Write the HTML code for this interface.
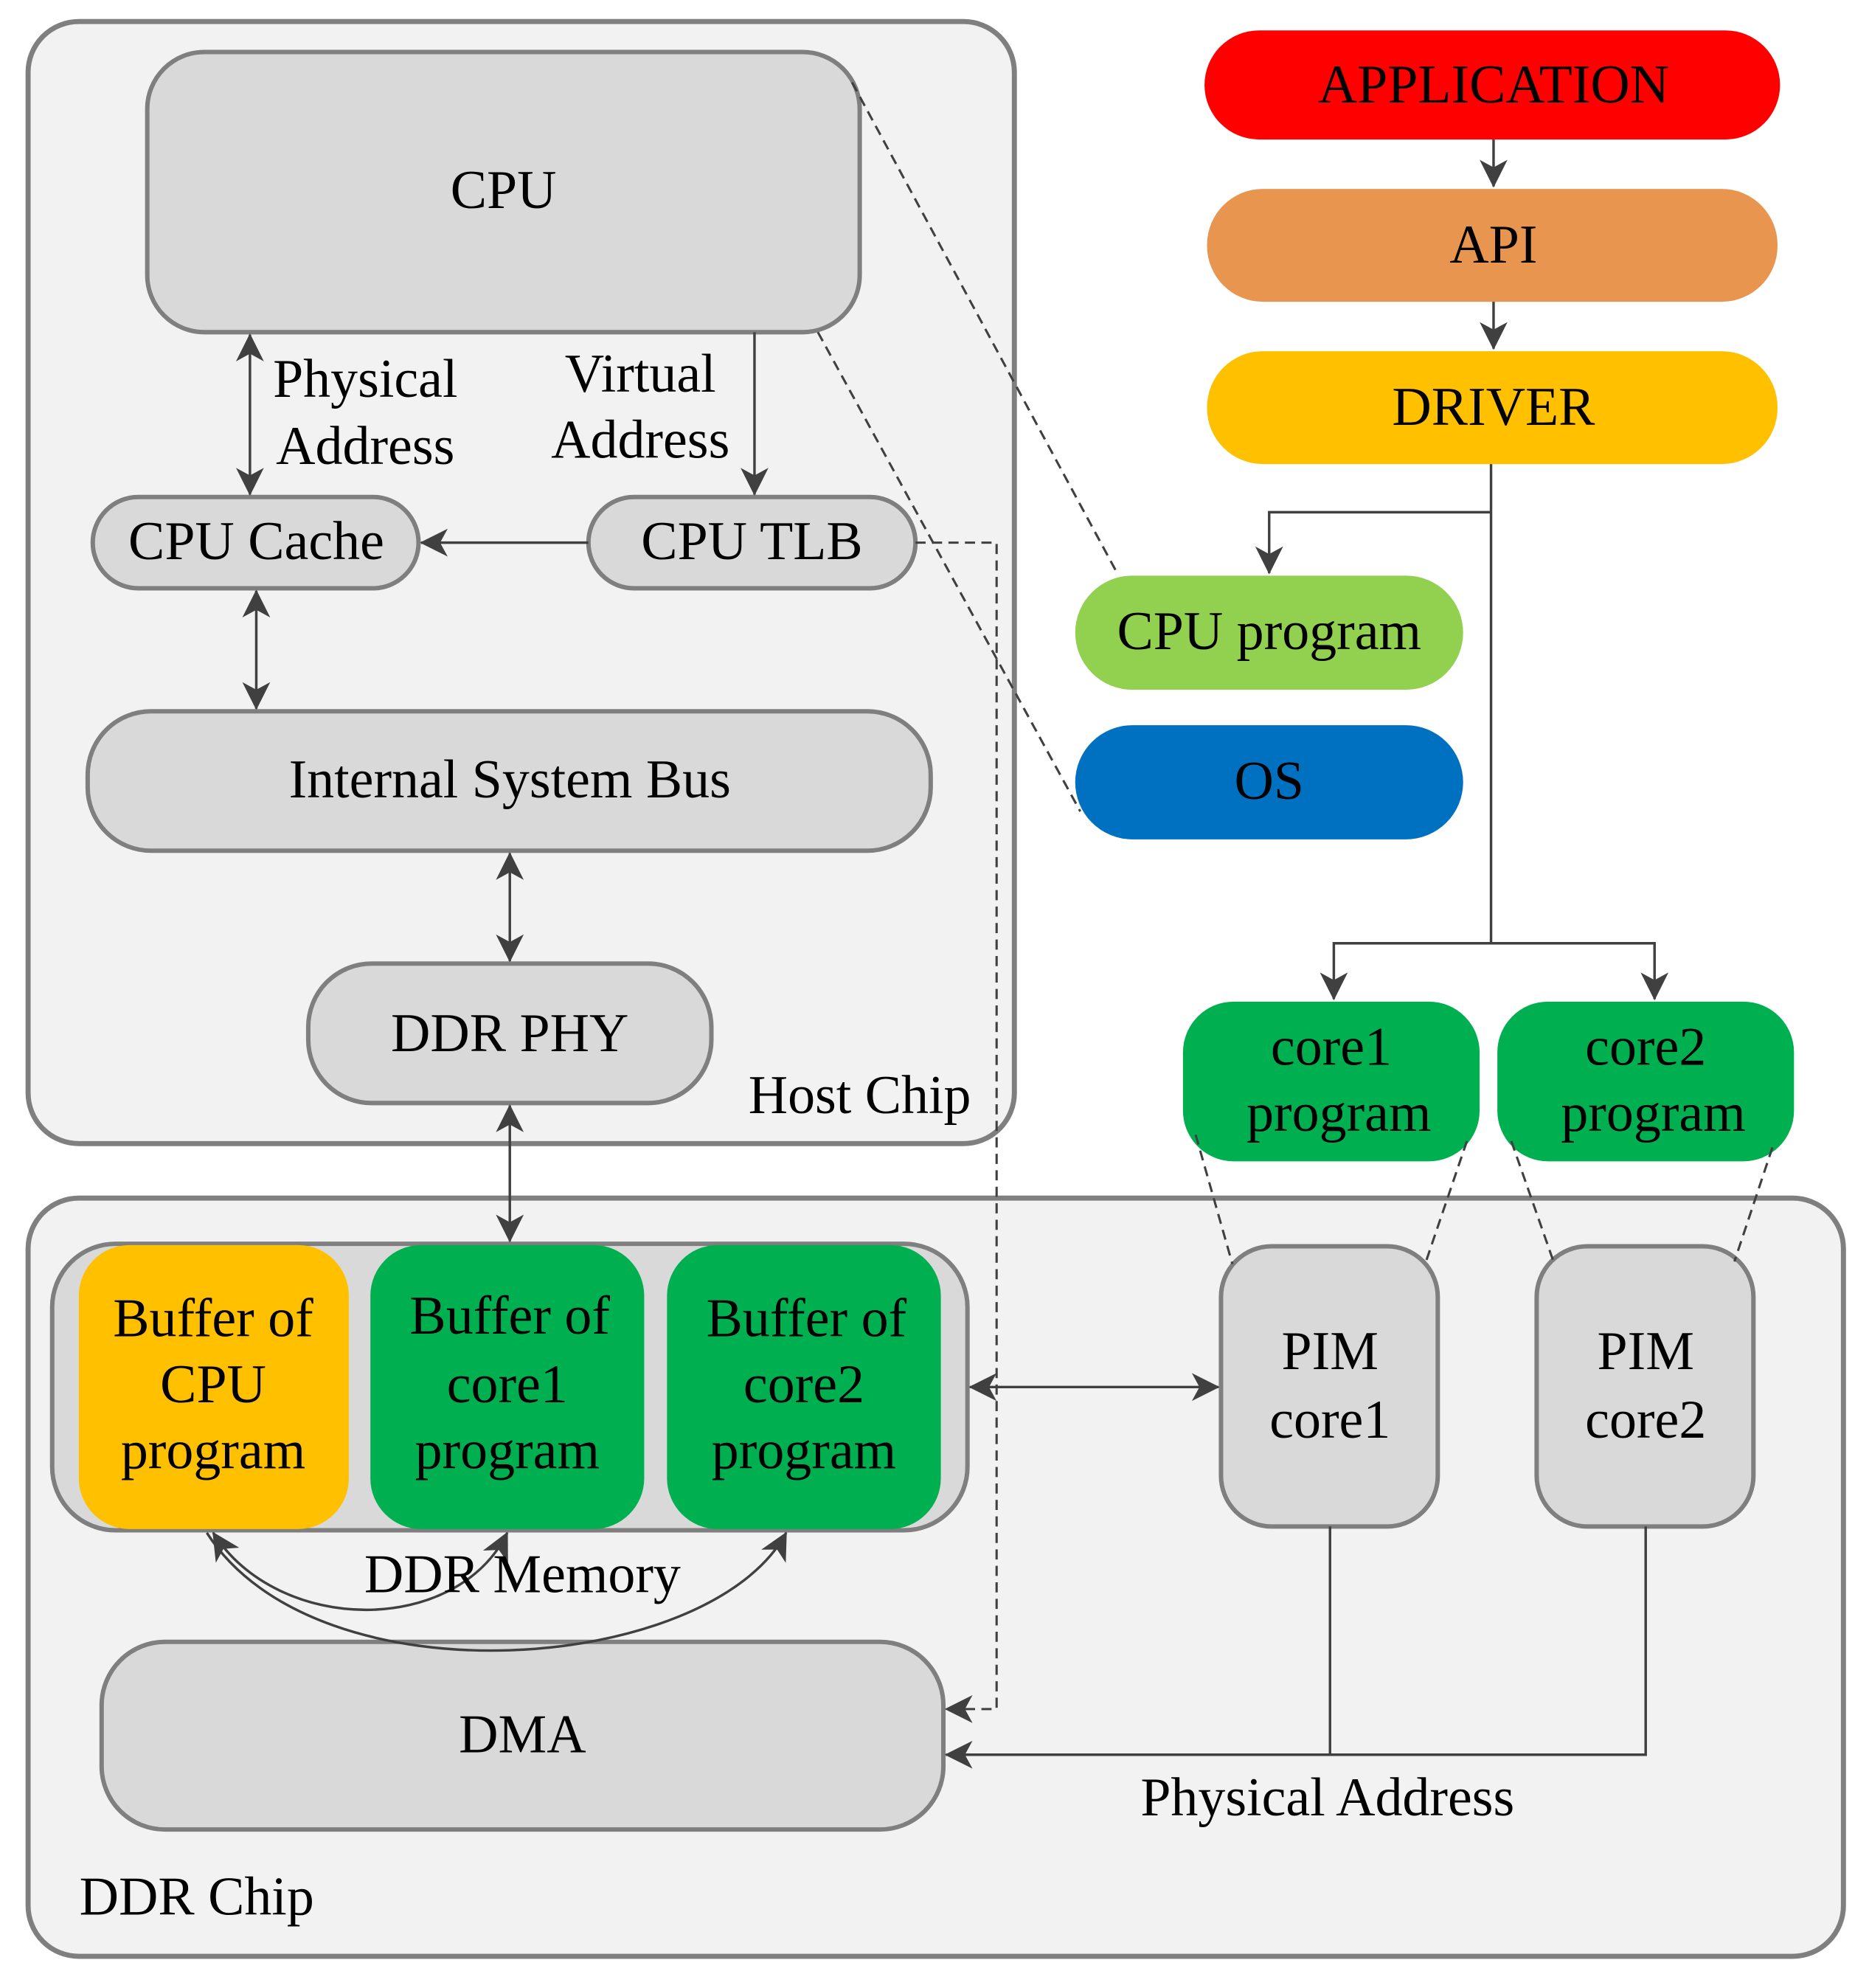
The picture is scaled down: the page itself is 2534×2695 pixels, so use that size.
<!DOCTYPE html>
<html><head><meta charset="utf-8"><style>
html,body{margin:0;padding:0;background:#fff;}
svg{display:block;}
text{font-family:"Liberation Serif",serif;fill:#000;text-anchor:middle;}
</style></head><body>
<svg width="2534" height="2695" viewBox="0 0 1474 1568" xmlns="http://www.w3.org/2000/svg">
<defs>
<marker id="a" viewBox="0 0 22 22" refX="21" refY="11" markerWidth="22" markerHeight="22" orient="auto-start-reverse" markerUnits="userSpaceOnUse">
<path d="M0,0 L22,11 L0,22 L6,11 Z" fill="#404040"/>
</marker>
</defs>
<g stroke="#7f7f7f" stroke-width="4" fill="#f2f2f2">
<rect x="22" y="17" width="778" height="885" rx="40"/>
<rect x="22" y="945" width="1432" height="598" rx="40"/>
</g>
<g stroke="#7f7f7f" stroke-width="3.5" fill="#d9d9d9">
<rect x="116" y="41" width="562" height="221" rx="45"/>
<rect x="73" y="392" width="257" height="72" rx="36"/>
<rect x="464" y="392" width="258" height="72" rx="36"/>
<rect x="69" y="561" width="665" height="110" rx="50"/>
<rect x="243" y="760" width="318" height="110" rx="50"/>
<rect x="41" y="981" width="722" height="226" rx="50"/>
<rect x="963" y="983" width="171" height="221" rx="40"/>
<rect x="1212" y="983" width="171" height="221" rx="40"/>
<rect x="80" y="1295" width="664" height="148" rx="50"/>
</g>
<rect x="950" y="24" width="454" height="86" rx="43" fill="#ff0000"/>
<rect x="952" y="149" width="450" height="89" rx="44" fill="#e8954f"/>
<rect x="952" y="277" width="450" height="89" rx="44" fill="#ffc000"/>
<rect x="848" y="454" width="306" height="90" rx="45" fill="#92d050"/>
<rect x="848" y="572" width="306" height="90" rx="45" fill="#0070c0"/>
<rect x="933" y="790" width="234" height="126" rx="40" fill="#00b050"/>
<rect x="1181" y="790" width="234" height="126" rx="40" fill="#00b050"/>
<rect x="62" y="982" width="213" height="224" rx="40" fill="#ffc000"/>
<rect x="292" y="982" width="216" height="224" rx="40" fill="#00b050"/>
<rect x="526" y="982" width="216" height="224" rx="40" fill="#00b050"/>

<g stroke="#404040" stroke-width="2" fill="none">
<line x1="197" y1="264" x2="197" y2="390" marker-start="url(#a)" marker-end="url(#a)"/>
<line x1="595" y1="262" x2="595" y2="390" marker-end="url(#a)"/>
<line x1="464" y1="428" x2="332" y2="428" marker-end="url(#a)"/>
<line x1="202" y1="466" x2="202" y2="559" marker-start="url(#a)" marker-end="url(#a)"/>
<line x1="402" y1="673" x2="402" y2="758" marker-start="url(#a)" marker-end="url(#a)"/>
<line x1="402" y1="872" x2="402" y2="979" marker-start="url(#a)" marker-end="url(#a)"/>
<line x1="765" y1="1094" x2="961" y2="1094" marker-start="url(#a)" marker-end="url(#a)"/>
<line x1="1178" y1="110" x2="1178" y2="147" marker-end="url(#a)"/>
<line x1="1178" y1="238" x2="1178" y2="275" marker-end="url(#a)"/>
<polyline points="1176,366 1176,744"/>
<polyline points="1176,404 1001,404 1001,452" marker-end="url(#a)"/>
<polyline points="1052,788 1052,744 1305,744 1305,788" marker-start="url(#a)" marker-end="url(#a)"/>
<polyline points="1049,1204 1049,1384"/>
<polyline points="1298,1204 1298,1384 746,1384" marker-end="url(#a)"/>
<path d="M168,1209 C220,1290 360,1290 400,1209" marker-start="url(#a)" marker-end="url(#a)"/>
<path d="M163,1209 C250,1345 560,1320 620,1209" marker-end="url(#a)"/>
</g>
<g stroke="#404040" stroke-width="1.8" fill="none" stroke-dasharray="8,5">
<line x1="672" y1="65" x2="880" y2="450"/>
<line x1="645" y1="262" x2="852" y2="640"/>
<polyline points="722,428 786,428 786,1348 746,1348" marker-end="url(#a)"/>
<line x1="943" y1="895" x2="972" y2="997"/>
<line x1="1157" y1="900" x2="1124" y2="997"/>
<line x1="1192" y1="900" x2="1226" y2="997"/>
<line x1="1398" y1="905" x2="1368" y2="995"/>
</g>

<g font-size="43">
<text x="397" y="164">CPU</text>
<text x="202" y="441">CPU Cache</text>
<text x="593" y="441">CPU TLB</text>
<text x="402" y="629">Internal System Bus</text>
<text x="402" y="829">DDR PHY</text>
<text x="678" y="878">Host Chip</text>
<text x="288" y="313">Physical</text>
<text x="288" y="366">Address</text>
<text x="505" y="309">Virtual</text>
<text x="505" y="361">Address</text>
<text x="1178" y="81">APPLICATION</text>
<text x="1178" y="207">API</text>
<text x="1178" y="335">DRIVER</text>
<text x="1001" y="512">CPU program</text>
<text x="1001" y="630">OS</text>
<text x="1050" y="840">core1</text>
<text x="1056" y="892">program</text>
<text x="1298" y="840">core2</text>
<text x="1304" y="892">program</text>
<text x="168" y="1054">Buffer of</text>
<text x="168" y="1106">CPU</text>
<text x="168" y="1158">program</text>
<text x="402" y="1052">Buffer of</text>
<text x="400" y="1106">core1</text>
<text x="400" y="1158">program</text>
<text x="636" y="1054">Buffer of</text>
<text x="634" y="1106">core2</text>
<text x="634" y="1158">program</text>
<text x="1049" y="1080">PIM</text>
<text x="1049" y="1134">core1</text>
<text x="1298" y="1080">PIM</text>
<text x="1298" y="1134">core2</text>
<text x="412" y="1256">DDR Memory</text>
<text x="412" y="1382">DMA</text>
<text x="1047" y="1432">Physical Address</text>
<text x="155" y="1510">DDR Chip</text>
</g>
</svg>
</body></html>
